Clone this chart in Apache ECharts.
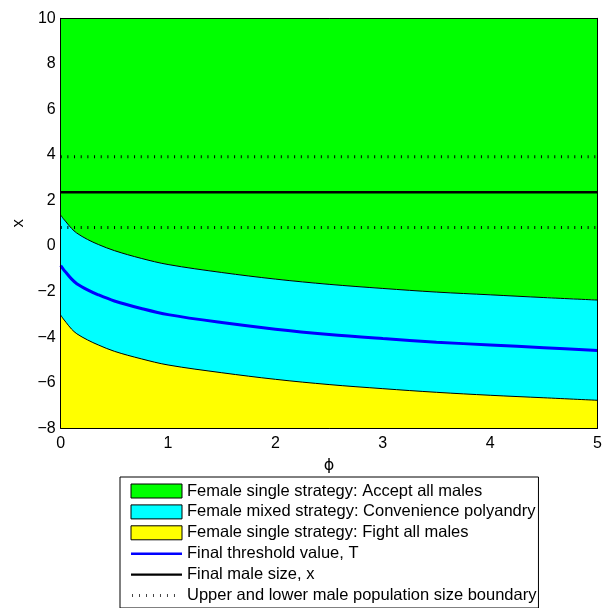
<!DOCTYPE html>
<html>
<head>
<meta charset="utf-8">
<script src="https://cdn.jsdelivr.net/npm/echarts@6/dist/echarts.min.js"></script>
<style>
  html, body { margin: 0; padding: 0; background: #fff; }
  #chart { width: 605px; height: 608px; }
</style>
</head>
<body>
<div id="chart"></div>
<script>
// Mating-strategy regions as a function of phi
const phi = [0, 0.025, 0.05, 0.1, 0.15, 0.25, 0.35, 0.5, 0.75, 1, 1.5, 2, 2.5, 3, 3.5, 4, 4.5, 5];
// upper edge of the mixed-strategy band (accept all males above it)
const upperBound = [1.36, 1.20, 1.06, 0.78, 0.57, 0.29, 0.07, -0.20, -0.54, -0.81, -1.16, -1.45, -1.68, -1.86, -2.02, -2.14, -2.26, -2.37];
// final threshold value T
const threshold = [-0.86, -1.02, -1.16, -1.44, -1.65, -1.92, -2.14, -2.41, -2.74, -3.01, -3.36, -3.65, -3.88, -4.06, -4.22, -4.34, -4.46, -4.58];
// lower edge of the mixed-strategy band (fight all males below it)
const lowerBound = [-3.03, -3.20, -3.35, -3.64, -3.85, -4.12, -4.34, -4.62, -4.95, -5.22, -5.56, -5.85, -6.08, -6.26, -6.42, -6.55, -6.66, -6.77];

const phiRange = [0, 5];
const maleSize = 2.36;
const popUpper = 3.92;
const popLower = 0.82;

const xTicks = { min: 0, max: 5, interval: 1 };
const yTicks = { min: -8, max: 10, interval: 2 };

const legendNames = [
  'Female single strategy: Accept all males',
  'Female mixed strategy: Convenience polyandry',
  'Female single strategy: Fight all males',
  'Final threshold value, T',
  'Final male size, x',
  'Upper and lower male population size boundary'
];

const pairs = arr => phi.map((p, i) => [p, arr[i]]);
const flat = v => phiRange.map(p => [p, v]);

const FONT = 'Liberation Sans';
const GREEN = '#00ff00', CYAN = '#00ffff', YELLOW = '#ffff00', BLUE = '#0000ff';
const minus = v => String(v).replace('-', '\u2212');

// legend icons: line glyphs padded with tiny corner points so they keep a 51x14 box
const lineIcon = 'path://M0,0h0.01v0.01h-0.01z M51,14h0.01v0.01h-0.01z M0,5.8h51v2.4h-51z';
let dots = 'path://M0,0h0.01v0.01h-0.01z M51,14h0.01v0.01h-0.01z';
for (let k = 0; k < 7; k++) dots += ' M' + (1 + k * 7) + ',5.5h1v3h-1z';

const smooth = 0.35;
const frameLine = { show: true, onZero: false, lineStyle: { color: '#000', width: 1 } };

const option = {
  animation: false,
  grid: { left: 60.7, top: 18.3, width: 541, height: 410, containLabel: false },
  xAxis: [{
    type: 'value', min: xTicks.min, max: xTicks.max, interval: xTicks.interval,
    name: '\u03d5', nameLocation: 'middle', nameGap: 30,
    nameTextStyle: { fontFamily: 'DejaVu Sans', fontSize: 16, color: '#000' },
    axisLine: frameLine,
    axisTick: { show: false }, splitLine: { show: false },
    axisLabel: { fontFamily: FONT, fontSize: 16, color: '#000', margin: 7 },
    z: 10
  }, {
    type: 'value', position: 'top', min: xTicks.min, max: xTicks.max, interval: xTicks.interval,
    axisLine: frameLine,
    axisTick: { show: false }, splitLine: { show: false }, axisLabel: { show: false },
    z: 10
  }],
  yAxis: [{
    type: 'value', min: yTicks.min, max: yTicks.max, interval: yTicks.interval,
    name: 'x', nameLocation: 'middle', nameRotate: 90, nameGap: 31,
    nameTextStyle: { fontFamily: FONT, fontSize: 17, color: '#000' },
    axisLine: frameLine,
    axisTick: { show: false }, splitLine: { show: false },
    axisLabel: { fontFamily: FONT, fontSize: 16, color: '#000', margin: 5, formatter: minus },
    z: 10
  }, {
    type: 'value', position: 'right', min: yTicks.min, max: yTicks.max, interval: yTicks.interval,
    axisLine: frameLine,
    axisTick: { show: false }, splitLine: { show: false }, axisLabel: { show: false },
    z: 10
  }],
  legend: {
    orient: 'vertical', left: 120, top: 477,
    padding: [5.5, 2, 4, 10.5],
    itemWidth: 51, itemHeight: 14, itemGap: 3.9,
    backgroundColor: '#fff', borderColor: '#000', borderWidth: 1,
    selectedMode: false,
    textStyle: { fontFamily: FONT, fontSize: 16.5, lineHeight: 16.5, color: '#000' },
    data: [
      { name: legendNames[0], icon: 'rect', itemStyle: { color: GREEN, borderColor: '#000', borderWidth: 1 } },
      { name: legendNames[1], icon: 'rect', itemStyle: { color: CYAN, borderColor: '#000', borderWidth: 1 } },
      { name: legendNames[2], icon: 'rect', itemStyle: { color: YELLOW, borderColor: '#000', borderWidth: 1 } },
      { name: legendNames[3], icon: lineIcon, itemStyle: { color: BLUE, borderWidth: 0 } },
      { name: legendNames[4], icon: lineIcon, itemStyle: { color: '#000', borderWidth: 0 } },
      { name: legendNames[5], icon: dots, itemStyle: { color: '#444', borderWidth: 0 } }
    ]
  },
  series: [
    { // mixed-strategy band: fill under the upper edge, later covered below the lower edge
      name: legendNames[1], type: 'line', data: pairs(upperBound), smooth, symbol: 'none',
      lineStyle: { width: 0, color: CYAN }, itemStyle: { color: CYAN },
      areaStyle: { origin: 'start', color: CYAN, opacity: 1 }, z: 1
    },
    { // accept-all region above the upper edge
      name: legendNames[0], type: 'line', data: pairs(upperBound), smooth, symbol: 'none',
      lineStyle: { width: 0, color: GREEN }, itemStyle: { color: GREEN },
      areaStyle: { origin: 'end', color: GREEN, opacity: 1 }, z: 1
    },
    { // fight-all region below the lower edge
      name: legendNames[2], type: 'line', data: pairs(lowerBound), smooth, symbol: 'none',
      lineStyle: { width: 0, color: YELLOW }, itemStyle: { color: YELLOW },
      areaStyle: { origin: 'start', color: YELLOW, opacity: 1 }, z: 2
    },
    { // region edges
      name: 'upper edge', type: 'line', data: pairs(upperBound), smooth, symbol: 'none',
      lineStyle: { width: 1, color: '#000' }, z: 3
    },
    {
      name: 'lower edge', type: 'line', data: pairs(lowerBound), smooth, symbol: 'none',
      lineStyle: { width: 1, color: '#000' }, z: 3
    },
    {
      name: legendNames[3], type: 'line', data: pairs(threshold), smooth, symbol: 'none',
      lineStyle: { width: 3, color: BLUE }, itemStyle: { color: BLUE }, z: 4
    },
    {
      name: legendNames[4], type: 'line', data: flat(maleSize), symbol: 'none',
      lineStyle: { width: 2.5, color: '#000' }, itemStyle: { color: '#000' }, z: 4
    },
    {
      name: legendNames[5], type: 'line', data: flat(popUpper), symbol: 'none',
      lineStyle: { width: 3, color: '#000', type: [1, 5.67], cap: 'butt' }, itemStyle: { color: '#000' }, z: 4
    },
    {
      name: legendNames[5], type: 'line', data: flat(popLower), symbol: 'none',
      lineStyle: { width: 3, color: '#000', type: [1, 5.67], cap: 'butt' }, itemStyle: { color: '#000' }, z: 4
    }
  ]
};

const chart = echarts.init(document.getElementById('chart'), null, { renderer: 'canvas' });
chart.setOption(option);
</script>
</body>
</html>
